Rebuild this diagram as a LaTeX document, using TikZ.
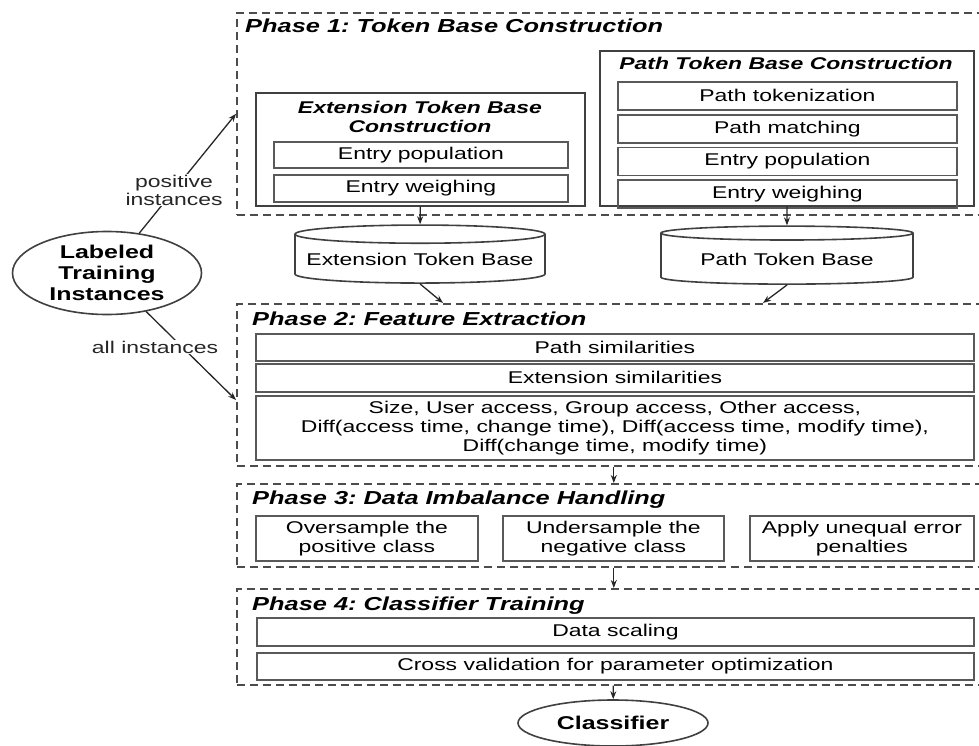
\documentclass[tikz,border=0pt]{standalone}
\usepackage{fontspec}
\setmainfont{Liberation Sans}[FakeStretch=1.35]
\usetikzlibrary{positioning, arrows.meta, shapes.geometric}
\frenchspacing

\begin{document}
\begin{tikzpicture}
    [
        x=1pt, y=-1pt, >={Stealth[length=8pt, width=6pt]},
        font=\fontsize{17}{19}\selectfont,
        phase_box/.style={draw=black!70, line width=1.6pt, dash pattern=on 8pt off 5pt, anchor=north west, inner sep=0pt},
        phase_title/.style={anchor=base west, inner sep=0pt, font=\fontsize{18.8}{22}\selectfont\bfseries\itshape},
        group_box/.style={draw=black!75, line width=1.7pt, anchor=north west, inner sep=0pt},
        group_title/.style={inner sep=0pt, align=center, font=\fontsize{17}{19}\selectfont\bfseries\itshape},
        step_box/.style={draw=black!65, line width=1.8pt, anchor=north west, inner sep=0pt, align=center},
        token_base/.style={cylinder, shape border rotate=90, draw=black!75, line width=1.6pt, aspect=0.08, minimum width=250, minimum height=58, inner sep=0pt},
        oval_node/.style={ellipse, draw=black!75, line width=1.6pt, align=center, inner sep=0pt, font=\fontsize{18.5}{21}\selectfont\bfseries},
        edge_line/.style={->, line width=1.3pt, color=black!85},
        edge_label/.style={fill=white, inner sep=1pt, align=center, font=\fontsize{17}{17.5}\selectfont},
    ]
        \useasboundingbox (0,0) rectangle (979,746);

        % input
        \node[oval_node, minimum width=189, minimum height=83] (labeled) at (107,273) {Labeled\\Training\\Instances};

        % phase 1
        \node[phase_box, minimum width=754, minimum height=202] (ph1) at (236,12) {};
        \node[phase_title] (ph1_title) at (245,33) {Phase 1: Token Base Construction};

        \node[group_box, minimum width=329, minimum height=113] (ext_box) at (255,92) {};
        \node[group_title] (ext_title) at (420,117) {Extension Token Base\\Construction};
        \node[step_box, minimum width=294, minimum height=26] (ext_pop) at (273,141) {Entry population};
        \node[step_box, minimum width=294, minimum height=27, below=5pt of ext_pop.south west, anchor=north west] (ext_wgt) {Entry weighing};

        \node[group_box, minimum width=374, minimum height=155] (path_box) at (599,50) {};
        \node[group_title, anchor=base] (path_title) at (786,70) {Path Token Base Construction};
        \node[step_box, minimum width=339, minimum height=28] (path_tok) at (617,81) {Path tokenization};
        \node[step_box, minimum width=339, minimum height=28, below=3pt of path_tok.south west, anchor=north west] (path_match) {Path matching};
        \node[step_box, minimum width=339, minimum height=28, below=3pt of path_match.south west, anchor=north west] (path_pop) {Entry population};
        \node[step_box, minimum width=339, minimum height=28, below=3pt of path_pop.south west, anchor=north west] (path_wgt) {Entry weighing};

        % token bases
        \node[token_base] (ext_db) at (420,259) {Extension Token Base};
        \node[token_base, minimum width=252] (path_db) at (787,259) {Path Token Base};

        % phase 2
        \node[phase_box, minimum width=754, minimum height=162] (ph2) at (236,303) {};
        \node[phase_title] (ph2_title) at (252,325) {Phase 2: Feature Extraction};
        \node[step_box, minimum width=718, minimum height=27] (path_sim) at (255,333) {Path similarities};
        \node[step_box, minimum width=718, minimum height=28] (ext_sim) at (255,363) {Extension similarities};
        \node[step_box, minimum width=718, minimum height=64] (misc) at (255,395) {Size, User access, Group access, Other access,\\Diff(access time, change time), Diff(access time, modify time),\\Diff(change time, modify time)};

        % phase 3
        \node[phase_box, minimum width=754, minimum height=83] (ph3) at (236,483) {};
        \node[phase_title] (ph3_title) at (252,504) {Phase 3: Data Imbalance Handling};
        \node[step_box, minimum width=222, minimum height=45] (over) at (255,515) {Oversample the\\positive class};
        \node[step_box, minimum width=221, minimum height=45] (under) at (502,515) {Undersample the\\negative class};
        \node[step_box, minimum width=224, minimum height=45] (penalty) at (749,515) {Apply unequal error\\penalties};

        % phase 4
        \node[phase_box, minimum width=754, minimum height=96] (ph4) at (236,588) {};
        \node[phase_title] (ph4_title) at (252,610) {Phase 4: Classifier Training};
        \node[step_box, minimum width=717, minimum height=28] (scaling) at (256,617) {Data scaling};
        \node[step_box, minimum width=717, minimum height=27] (cross) at (256,652) {Cross validation for parameter optimization};

        % output
        \node[oval_node, minimum width=190, minimum height=46] (classifier) at (613,723) {Classifier};

        \coordinate (p2_left) at (236,400);
        \coordinate (p2_in_a) at (443,303);
        \coordinate (p2_in_b) at (763,303);

        \draw[edge_line] (labeled) -- node[edge_label, pos=0.36] {positive\\instances} (ph1.west);
        \draw[edge_line] (labeled) -- node[edge_label, pos=0.4, xshift=-27pt] {all instances} (p2_left);
        \draw[edge_line] (ext_box) -- (ext_db);
        \draw[edge_line] (path_box) -- (path_db);
        \draw[edge_line] (ext_db.south) -- (p2_in_a);
        \draw[edge_line] (path_db.south) -- (p2_in_b);
        \draw[edge_line] (ph2) -- (ph3);
        \draw[edge_line] (ph3) -- (ph4);
        \draw[edge_line] (ph4) -- (classifier);
    \end{tikzpicture}
\end{document}
